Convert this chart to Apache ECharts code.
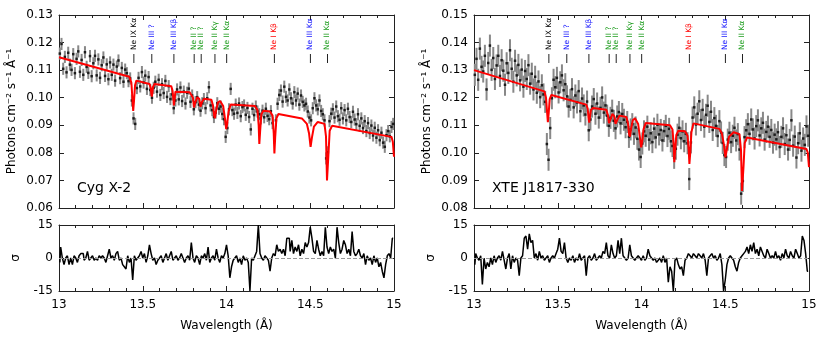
<!DOCTYPE html>
<html>
<head>
<meta charset="utf-8">
<script src="https://cdn.jsdelivr.net/npm/echarts@6.0.0/dist/echarts.min.js"></script>
<style>
html, body { margin: 0; padding: 0; background: #fff; }
#chart { width: 830px; height: 346px; }
</style>
</head>
<body>
<div id="chart"></div>
<script>
// wavelength grid: bin centres, 0.01 A bins from 13 to 15
const binStart = 13.005
const binWidth = 0.01

const cygFlux = [
  0.1160, 0.1195, 0.1105, 0.1148, 0.1092, 0.1163, 0.1120, 0.1101, 0.1158, 0.1089,
  0.1141, 0.1168, 0.1094, 0.1137, 0.1083, 0.1165, 0.1112, 0.1090, 0.1151, 0.1078,
  0.1125, 0.1152, 0.1081, 0.1139, 0.1072, 0.1118, 0.1146, 0.1079, 0.1121, 0.1067,
  0.1128, 0.1083, 0.1120, 0.1062, 0.1113, 0.1135, 0.1071, 0.1108, 0.1058, 0.1102,
  0.1089, 0.1060, 0.1070, 0.0990, 0.0925, 0.0905, 0.1035, 0.1072, 0.1041, 0.1093,
  0.1055, 0.1080, 0.1032, 0.1075, 0.1028, 0.1000, 0.1036, 0.1058, 0.1022, 0.1065,
  0.1010, 0.1049, 0.1017, 0.1061, 0.1003, 0.1042, 0.0995, 0.1012, 0.0962, 0.0990,
  0.1030, 0.0994, 0.1037, 0.0988, 0.1022, 0.0979, 0.1018, 0.1033, 0.0985, 0.1008,
  0.0958, 0.0984, 0.1002, 0.0975, 0.0953, 0.0980, 0.0995, 0.0962, 0.0998, 0.1038,
  0.0972, 0.0955, 0.0930, 0.0946, 0.0980, 0.0960, 0.0968, 0.0941, 0.0922, 0.0858,
  0.0890, 0.0958, 0.1032, 0.0955, 0.0942, 0.0975, 0.0945, 0.0979, 0.0933, 0.0966,
  0.0972, 0.0938, 0.0963, 0.0930, 0.0885, 0.0960, 0.0937, 0.0968, 0.0950, 0.0940,
  0.0925, 0.0953, 0.0929, 0.0960, 0.0934, 0.0922, 0.0951, 0.0908, 0.0855, 0.0918,
  0.0978, 0.1010, 0.1026, 0.0986, 0.1040, 0.1003, 0.0990, 0.1030, 0.0998, 0.0979,
  0.1020, 0.0990, 0.1015, 0.0975, 0.1008, 0.0985, 0.0972, 0.0978, 0.0950, 0.0928,
  0.0918, 0.0962, 0.0998, 0.0972, 0.0958, 0.0990, 0.0952, 0.0940, 0.0918, 0.0780,
  0.0802, 0.0915, 0.0942, 0.0958, 0.0928, 0.0968, 0.0933, 0.0920, 0.0962, 0.0925,
  0.0955, 0.0918, 0.0960, 0.0930, 0.0912, 0.0949, 0.0921, 0.0904, 0.0940, 0.0898,
  0.0925, 0.0890, 0.0915, 0.0879, 0.0908, 0.0872, 0.0899, 0.0863, 0.0891, 0.0855,
  0.0882, 0.0846, 0.0873, 0.0837, 0.0822, 0.0864, 0.0879, 0.0860, 0.0894, 0.0905
]
const cygErr = 0.0022

const cygResid = [
  -2, 5, 0, -3, 0, 1, -3, 0, -3, 1,
  0, -2, 1, 2, 2, -1, 0, 3, -1, 0,
  1, -1, 0, -1, 1, 0, 1, 0, -2, 1,
  4, 0, 1, -1, 2, 3, -1, 0, -3, -4,
  -5, 1, -2, 0, -10, 1, -1, 0, 1, 3,
  0, 2, -2, 1, 6, 2, -1, 0, -3, -1,
  0, 1, -2, 0, 2, -1, 1, 3, -1, 0,
  1, -1, 0, 2, 0, -2, 0, 1, -1, 7,
  0, -2, 1, 0, -3, 1, 0, 2, -1, 5,
  -2, 0, 1, -1, 4, 0, -2, 1, 0, 2,
  6, 1, -9, -4, -1, 0, 1, -2, 0, -3,
  1, -1, 0, -2, -15, 0, -1, 1, 3, 15,
  2, 0, -1, 1, 0, -1, -6, 0, 2, 1,
  6, 3, 4, 2, 4, 1, 9, 9, 3, 8,
  2, 5, 3, 6, 1, 4, 2, 7, 5, 7,
  14, 9, 3, 2, 8, 4, 1, 3, 1, 14,
  5, 2, 5, 3, 4, 0, 14, 7, 2, 4,
  8, 6, 2, 4, 1, 12, 3, 1, 2, 4,
  1, 0, 2, -3, 1, -1, 0, -3, 1, -2,
  0, -4, -2, -6, -9, -3, 1, 2, 0, 9
]

// best-fit model, [wavelength, flux] at the breakpoints of the red curve
const cygModel = [
  [13.00, 0.1147], [13.42, 0.1076], [13.432, 0.1055], [13.438, 0.1000], [13.443, 0.0952],
  [13.448, 0.0990], [13.454, 0.1045], [13.462, 0.1062],
  [13.54, 0.1050], [13.548, 0.1035], [13.551, 0.1015], [13.554, 0.1004], [13.557, 0.1015],
  [13.561, 0.1038], [13.57, 0.1050],
  [13.67, 0.1042], [13.678, 0.1025], [13.683, 0.0995], [13.686, 0.0972], [13.690, 0.0995],
  [13.695, 0.1022], [13.705, 0.1028],
  [13.78, 0.1020], [13.80, 0.1000], [13.806, 0.0965], [13.810, 0.0962], [13.815, 0.0985],
  [13.826, 0.1002], [13.838, 0.0995], [13.845, 0.0967], [13.849, 0.0963], [13.854, 0.0985],
  [13.866, 0.0996], [13.91, 0.0993], [13.92, 0.0970], [13.926, 0.0935], [13.931, 0.0926],
  [13.937, 0.0950], [13.948, 0.0982], [13.962, 0.0988], [13.98, 0.0970], [13.992, 0.0920],
  [13.998, 0.0886], [14.004, 0.0905], [14.012, 0.0950], [14.025, 0.0975], [14.035, 0.0978],
  [14.17, 0.0970], [14.185, 0.0955], [14.192, 0.0900], [14.196, 0.0832], [14.201, 0.0880],
  [14.208, 0.0940], [14.22, 0.0953], [14.26, 0.0950], [14.275, 0.0935], [14.282, 0.0870],
  [14.286, 0.0798], [14.291, 0.0860], [14.298, 0.0925], [14.31, 0.0941],
  [14.45, 0.0925], [14.48, 0.0905], [14.493, 0.0870], [14.502, 0.0822], [14.51, 0.0855],
  [14.522, 0.0895], [14.545, 0.0912], [14.585, 0.0905], [14.594, 0.0860], [14.600, 0.0700],
  [14.604, 0.0695], [14.609, 0.0800], [14.616, 0.0880], [14.63, 0.0898], [14.985, 0.0858],
  [14.993, 0.0840], [15.0, 0.0786]
]

const xteFlux = [
  0.1283, 0.1341, 0.1265, 0.1378, 0.1312, 0.1295, 0.1352, 0.1230, 0.1326, 0.1389,
  0.1301, 0.1344, 0.1268, 0.1317, 0.1352, 0.1279, 0.1336, 0.1298, 0.1247, 0.1325,
  0.1290, 0.1372, 0.1305, 0.1258, 0.1334, 0.1281, 0.1319, 0.1263, 0.1302, 0.1240,
  0.1297, 0.1268, 0.1318, 0.1251, 0.1287, 0.1230, 0.1276, 0.1218, 0.1259, 0.1202,
  0.1245, 0.1212, 0.1185, 0.1032, 0.0975, 0.1090, 0.1198, 0.1265, 0.1238, 0.1272,
  0.1219, 0.1256, 0.1281, 0.1227, 0.1249, 0.1205, 0.1168, 0.1192, 0.1231, 0.1165,
  0.1208, 0.1183, 0.1224, 0.1151, 0.1197, 0.1172, 0.1139, 0.1186, 0.1082, 0.1121,
  0.1168, 0.1195, 0.1142, 0.1179, 0.1128, 0.1163, 0.1201, 0.1146, 0.1172, 0.1135,
  0.1098, 0.1127, 0.1153, 0.1116, 0.1089, 0.1132, 0.1148, 0.1107, 0.1141, 0.1120,
  0.1093, 0.1112, 0.1058, 0.1085, 0.1104, 0.1069, 0.1092, 0.1051, 0.1012, 0.0985,
  0.1034, 0.1078, 0.1062, 0.1095, 0.1048, 0.1071, 0.1039, 0.1088, 0.1056, 0.1102,
  0.1067, 0.1083, 0.1045, 0.1079, 0.1098, 0.1061, 0.1087, 0.1042, 0.1025, 0.0982,
  0.1015, 0.1066, 0.1091, 0.1053, 0.1078, 0.1042, 0.1069, 0.1035, 0.0905, 0.1038,
  0.1128, 0.1165, 0.1103, 0.1142, 0.1187, 0.1119, 0.1156, 0.1095, 0.1138, 0.1171,
  0.1112, 0.1149, 0.1083, 0.1126, 0.1098, 0.1061, 0.1115, 0.1074, 0.1036, 0.0992,
  0.0985, 0.1048, 0.1073, 0.1039, 0.1062, 0.1091, 0.1045, 0.1068, 0.1012, 0.0852,
  0.0898, 0.1057, 0.1082, 0.1104, 0.1069, 0.1121, 0.1085, 0.1052, 0.1097, 0.1118,
  0.1063, 0.1089, 0.1109, 0.1048, 0.1076, 0.1095, 0.1058, 0.1083, 0.1037, 0.1066,
  0.1049, 0.1075, 0.1021, 0.1058, 0.1089, 0.1032, 0.1064, 0.1012, 0.1047, 0.1118,
  0.1026, 0.1059, 0.0983, 0.1035, 0.1071, 0.1008, 0.1052, 0.1029, 0.1096, 0.1062
]
const xteErr = 0.004

const xteResid = [
  -3, 2, 0, -1, 1, -12, 0, -5, -2, -4,
  0, -3, 1, -2, 0, 1, -1, 3, -1, -5,
  0, 2, -5, 1, -2, 0, -1, -8, 0, 1,
  9, 10, 4, 11, 7, 8, 0, 2, -1, 3,
  0, 1, -1, 0, 1, -2, 0, 1, 0, 2,
  4, 9, 3, 2, 7, 0, -2, 0, -1, 1,
  -2, 0, -1, 2, -1, 0, 1, -8, 0, 1,
  -1, 0, 2, -1, 0, 1, 0, 3, 2, 7,
  1, 0, 6, 2, 0, 1, 8, 2, 9, 1,
  0, -1, 0, 6, 1, 0, -1, 0, 1, 0,
  -1, 1, -1, 0, 4, 1, 0, -1, 0, -2,
  -1, 0, -2, 1, -2, 0, -11, -4, -6, -15,
  -1, 0, -3, -5, -4, -8, -1, 0, 2, 1,
  0, 2, 1, 0, 2, 1, 0, 2, -1, -8,
  0, 1, 2, 0, 1, -1, 0, 2, -3, -15,
  -10, -3, 0, 1, 0, -1, -4, -6, -2, 0,
  1, 2, 3, 5, 2, 6, 3, 7, 2, 4,
  1, 5, 3, 1, 0, 4, 2, 0, 1, 0,
  3, 0, 1, -1, 2, 0, 4, 1, 0, 3,
  1, 0, 4, 2, 0, 1, 10, 8, 2, -6
]

const xteModel = [
  [13.00, 0.1300], [13.42, 0.1223], [13.430, 0.1200], [13.436, 0.1150], [13.441, 0.1111],
  [13.446, 0.1145], [13.452, 0.1195], [13.462, 0.1210],
  [13.67, 0.1175], [13.679, 0.1160], [13.684, 0.1125], [13.688, 0.1110], [13.692, 0.1130],
  [13.698, 0.1155], [13.71, 0.1163],
  [13.79, 0.1156], [13.80, 0.1135], [13.806, 0.1108], [13.810, 0.1104], [13.815, 0.1122],
  [13.826, 0.1141], [13.838, 0.1132], [13.845, 0.1105], [13.849, 0.1100], [13.854, 0.1118],
  [13.868, 0.1135], [13.91, 0.1130], [13.92, 0.1105], [13.926, 0.1068], [13.931, 0.1059],
  [13.937, 0.1085], [13.948, 0.1118], [13.962, 0.1125], [13.98, 0.1105], [13.992, 0.1050],
  [13.998, 0.1020], [14.004, 0.1040], [14.012, 0.1085], [14.025, 0.1108], [14.035, 0.1113],
  [14.17, 0.1100], [14.185, 0.1085], [14.192, 0.1030], [14.196, 0.0966], [14.201, 0.1010],
  [14.208, 0.1065], [14.22, 0.1080], [14.26, 0.1078], [14.275, 0.1062], [14.282, 0.1010],
  [14.286, 0.0960], [14.291, 0.1000], [14.298, 0.1075], [14.31, 0.1107],
  [14.465, 0.1087], [14.48, 0.1070], [14.492, 0.1030], [14.501, 0.0984], [14.51, 0.1015],
  [14.522, 0.1058], [14.55, 0.1075], [14.585, 0.1068], [14.594, 0.1010], [14.600, 0.0862],
  [14.604, 0.0857], [14.609, 0.0950], [14.616, 0.1035], [14.63, 0.1056], [14.985, 0.1014],
  [14.993, 0.1000], [15.0, 0.0948]
]

// line identifications
const lineNames = ['Ne IX Kα', 'Ne III ?', 'Ne III Kβ', 'Ne II ?', 'Ne II ?', 'Ne II Kγ', 'Ne II Kα', 'Ne I Kβ', 'Ne III Kα', 'Ne II Kα']
const lineWaves = [13.447, 13.554, 13.686, 13.807, 13.849, 13.931, 14.001, 14.286, 14.501, 14.603]
const lineIons = ['IX', 'III', 'III', 'II', 'II', 'II', 'II', 'I', 'III', 'II']
const ionColors = { IX: '#000000', III: '#1010ff', II: '#1c9c1c', I: '#ff0000' }

const FONT = 'DejaVu Sans'
const AXIS_COLOR = '#222'

const panels = [
  { name: 'Cyg X-2', flux: cygFlux, err: cygErr, resid: cygResid, model: cygModel, yMin: 0.06, yMax: 0.13, left: 59 },
  { name: 'XTE J1817-330', flux: xteFlux, err: xteErr, resid: xteResid, model: xteModel, yMin: 0.08, yMax: 0.15, left: 474 },
]

function binCentre(i) {
  return +(binStart + i * binWidth).toFixed(3)
}

function xAxisFor(gridIndex, position, withLabels) {
  return {
    type: 'value',
    gridIndex,
    position,
    min: 13,
    max: 15,
    interval: 0.5,
    axisLine: { show: true, onZero: false, lineStyle: { color: AXIS_COLOR, width: 1 } },
    axisTick: { show: true, inside: true, length: 5, lineStyle: { color: AXIS_COLOR } },
    minorTick: { show: true, splitNumber: 5, length: 3, lineStyle: { color: AXIS_COLOR } },
    splitLine: { show: false },
    axisLabel: { show: withLabels, fontSize: 12, color: '#000', margin: 8, fontFamily: FONT },
    name: withLabels ? 'Wavelength (Å)' : '',
    nameLocation: 'middle',
    nameGap: 29,
    nameTextStyle: { fontSize: 12, color: '#000', fontFamily: FONT },
  }
}

function yAxisFor(gridIndex, position, opts) {
  const withLabels = position === 'left'
  return {
    type: 'value',
    gridIndex,
    position,
    min: opts.min,
    max: opts.max,
    interval: opts.interval,
    axisLine: { show: true, onZero: false, lineStyle: { color: AXIS_COLOR, width: 1 } },
    axisTick: { show: true, inside: true, length: 5, lineStyle: { color: AXIS_COLOR } },
    splitLine: { show: false },
    axisLabel: {
      show: withLabels,
      fontSize: 12,
      color: '#000',
      margin: 6,
      fontFamily: FONT,
      formatter: opts.formatter,
    },
    name: withLabels ? opts.name : '',
    nameLocation: 'middle',
    nameGap: opts.nameGap,
    nameRotate: 90,
    nameTextStyle: { fontSize: 12, color: '#000', fontFamily: FONT },
  }
}

const grids = []
const xAxes = []
const yAxes = []
const series = []
const graphics = []

panels.forEach((p, k) => {
  const gMain = 2 * k
  const gRes = 2 * k + 1
  grids.push({ left: p.left, top: 15, width: 335, height: 193 })
  grids.push({ left: p.left, top: 225, width: 335, height: 66 })

  // axes: index 2g = bottom/left, 2g+1 = top/right mirror
  xAxes.push(xAxisFor(gMain, 'bottom', false), xAxisFor(gMain, 'top', false))
  xAxes.push(xAxisFor(gRes, 'bottom', true), xAxisFor(gRes, 'top', false))

  const mainY = {
    min: p.yMin, max: p.yMax, interval: 0.01,
    formatter: v => v.toFixed(2),
    name: 'Photons cm⁻² s⁻¹ Å⁻¹',
    nameGap: 41,
  }
  const resY = { min: -15, max: 15, interval: 15, formatter: v => String(v), name: 'σ', nameGap: 37 }
  yAxes.push(yAxisFor(gMain, 'left', mainY), yAxisFor(gMain, 'right', mainY))
  yAxes.push(yAxisFor(gRes, 'left', resY), yAxisFor(gRes, 'right', resY))

  const xi = 2 * gMain
  const xr = 2 * gRes

  // error bars
  series.push({
    type: 'custom',
    xAxisIndex: xi,
    yAxisIndex: xi,
    silent: true,
    data: p.flux.map((f, i) => [binCentre(i), f, p.err]),
    renderItem(params, api) {
      const lo = api.coord([api.value(0), api.value(1) - api.value(2)])
      const hi = api.coord([api.value(0), api.value(1) + api.value(2)])
      return {
        type: 'line',
        shape: { x1: lo[0], y1: lo[1], x2: hi[0], y2: hi[1] },
        style: { stroke: '#888', lineWidth: 2 },
      }
    },
  })

  // data points
  series.push({
    type: 'scatter',
    xAxisIndex: xi,
    yAxisIndex: xi,
    symbol: 'rect',
    symbolSize: 2.5,
    itemStyle: { color: '#000' },
    silent: true,
    data: p.flux.map((f, i) => [binCentre(i), f]),
  })

  // model
  series.push({
    type: 'line',
    xAxisIndex: xi,
    yAxisIndex: xi,
    showSymbol: false,
    smooth: false,
    lineStyle: { color: '#ff0000', width: 2 },
    silent: true,
    data: p.model,
  })

  // line identifications
  series.push({
    type: 'custom',
    xAxisIndex: xi,
    yAxisIndex: xi,
    silent: true,
    data: lineWaves.map(w => [w, p.yMax]),
    renderItem(params, api) {
      const x = api.coord([api.value(0), api.value(1)])[0]
      const top = params.coordSys.y
      const idx = params.dataIndex
      return {
        type: 'group',
        children: [
          {
            type: 'line',
            shape: { x1: x, y1: top + 39, x2: x, y2: top + 48 },
            style: { stroke: AXIS_COLOR, lineWidth: 1 },
          },
          {
            type: 'text',
            x: x,
            y: top + 35,
            rotation: Math.PI / 2,
            style: {
              text: lineNames[idx],
              fill: ionColors[lineIons[idx]],
              font: '7.5px "DejaVu Sans"',
              align: 'left',
              verticalAlign: 'middle',
            },
          },
        ],
      }
    },
  })

  // residuals
  series.push({
    type: 'line',
    xAxisIndex: xr,
    yAxisIndex: xr,
    step: 'middle',
    showSymbol: false,
    lineStyle: { color: '#000', width: 1.5 },
    silent: true,
    data: p.resid.map((r, i) => [binCentre(i), r]),
    markLine: {
      silent: true,
      symbol: 'none',
      label: { show: false },
      lineStyle: { color: '#999', type: 'dashed', width: 1 },
      data: [{ yAxis: 0 }],
    },
    z: 3,
  })

  graphics.push({
    type: 'text',
    left: p.left + 18,
    top: 181,
    style: { text: p.name, font: '14px "DejaVu Sans"', fill: '#000' },
  })
})

const chart = echarts.init(document.getElementById('chart'), null, { renderer: 'canvas' })
chart.setOption({
  animation: false,
  backgroundColor: '#fff',
  textStyle: { fontFamily: FONT },
  grid: grids,
  xAxis: xAxes,
  yAxis: yAxes,
  series,
  graphic: graphics,
})
</script>
</body>
</html>
